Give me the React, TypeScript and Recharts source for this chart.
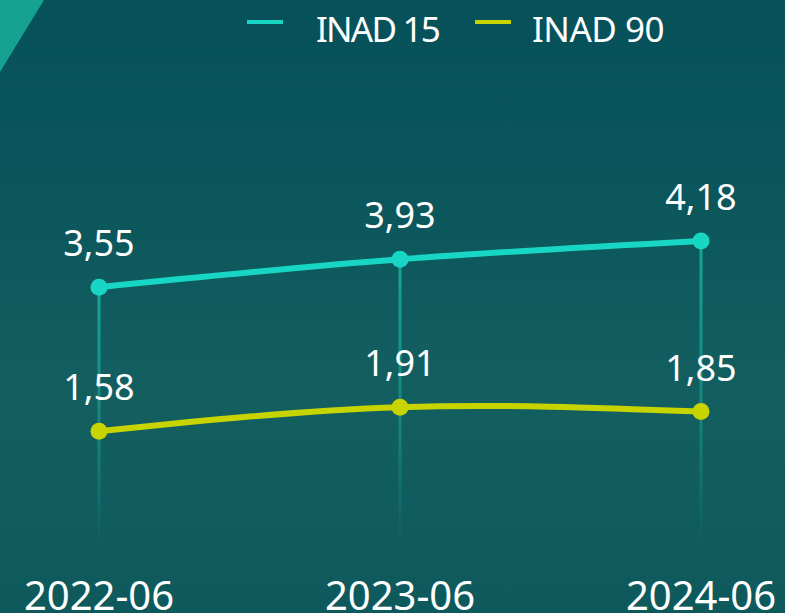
import { ComposedChart, Line, Bar, XAxis, YAxis, LabelList, Legend } from "recharts";

const periods = ["2022-06", "2023-06", "2024-06"];
const inad15 = [3.55, 3.93, 4.18];
const inad90 = [1.58, 1.91, 1.85];
const seriesNames = ["INAD 15", "INAD 90"];

const TEAL = "#17d6c3";
const LIME = "#c8d400";
const FONT = "'Noto Sans', 'Open Sans', sans-serif";

const data = periods.map((p, i) => ({ period: p, inad15: inad15[i], inad90: inad90[i] }));

const fmt = (v: any) => Number(v).toFixed(2).replace(".", ",");

const XTick = ({ x, y, payload }: any) => (
  <text x={x} y={y} dy={63} textAnchor="middle" fill="#ffffff" fontSize={40} fontFamily={FONT}>
    {payload.value}
  </text>
);

const legendColors = [TEAL, LIME];

const LegendBox = () => (
  <div style={{ display: "flex", alignItems: "flex-start", paddingLeft: 247, height: 50, fontFamily: FONT }}>
    {seriesNames.map((name, i) => (
      <div key={name} style={{ display: "flex", alignItems: "flex-start", marginLeft: i === 0 ? 0 : 36 }}>
        <div style={{ width: 36, height: 4, marginTop: 20, background: legendColors[i] }} />
        <span
          style={{
            marginLeft: i === 0 ? 33 : 21,
            marginTop: 11,
            fontSize: 35,
            lineHeight: "35px",
            letterSpacing: i === 0 ? -1.8 : -0.5,
            color: "#ffffff",
          }}
        >
          {name}
        </span>
      </div>
    ))}
  </div>
);

export default function App() {
  return (
    <div
      style={{
        position: "absolute",
        left: 0,
        top: 0,
        width: 785,
        height: 613,
        overflow: "hidden",
        background: "linear-gradient(180deg, #06515a 0%, #0b575c 35%, #135f60 65%, #0e595c 100%)",
      }}
    >
      <div
        style={{
          position: "absolute",
          left: 0,
          top: 0,
          width: 44,
          height: 72,
          background: "#15a290",
          clipPath: "polygon(0 0, 100% 0, 0 100%)",
        }}
      />
      <ComposedChart
        width={785}
        height={613}
        data={data}
        margin={{ top: 131, right: 84, bottom: 6, left: 99 }}
        style={{ position: "absolute", left: 0, top: 0 }}
      >
        <defs>
          <linearGradient id="drop" x1="0" y1="0" x2="0" y2="1">
            <stop offset="0%" stopColor="#16ab9b" stopOpacity={0.95} />
            <stop offset="60%" stopColor="#16ab9b" stopOpacity={0.45} />
            <stop offset="100%" stopColor="#16ab9b" stopOpacity={0} />
          </linearGradient>
        </defs>
        <Legend verticalAlign="top" align="left" content={<LegendBox />} wrapperStyle={{ top: 0, left: 0, width: 785, height: 50 }} />
        <XAxis
          dataKey="period"
          scale="point"
          axisLine={false}
          tickLine={false}
          tickSize={0}
          tickMargin={0}
          height={60}
          interval={0}
          tick={<XTick />}
        />
        <YAxis hide domain={[0, 5]} />
        <Line
          type="natural"
          dataKey="inad15"
          name={seriesNames[0]}
          stroke={TEAL}
          strokeWidth={6}
          dot={{ r: 8.5, fill: TEAL, stroke: "none" }}
          isAnimationActive={false}
        >
          <LabelList dataKey="inad15" position="top" offset={31} formatter={fmt} fill="#ffffff" fontSize={36} fontFamily={FONT} />
        </Line>
        <Line
          type="natural"
          dataKey="inad90"
          name={seriesNames[1]}
          stroke={LIME}
          strokeWidth={6}
          dot={{ r: 8.5, fill: LIME, stroke: "none" }}
          isAnimationActive={false}
        >
          <LabelList dataKey="inad90" position="top" offset={31} formatter={fmt} fill="#ffffff" fontSize={36} fontFamily={FONT} />
        </Line>
        <Bar
          dataKey="inad15"
          barSize={3}
          fill="url(#drop)"
          isAnimationActive={false}
          legendType="none"
          {...({ zIndex: 450 } as any)}
        />
      </ComposedChart>
    </div>
  );
}
